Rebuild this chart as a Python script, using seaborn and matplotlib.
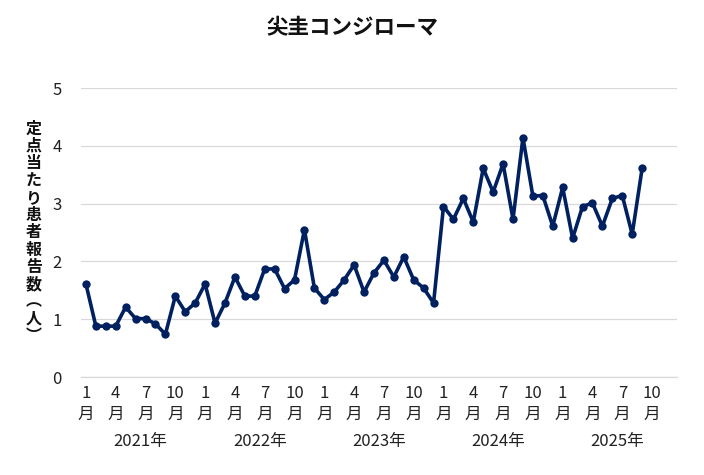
import matplotlib
matplotlib.use("Agg")
import matplotlib.pyplot as plt
import numpy as np
import pandas as pd
import seaborn as sns

TITLE = "尖圭コンジローマ"
YLABEL = "定点当たり患者報告数︵人︶"

years = ["2021年", "2022年", "2023年", "2024年", "2025年"]
month_ticks = [1, 4, 7, 10]

# monthly reports per sentinel site, Jan 2021 .. Sep 2025
v2021 = [1.61, 0.88, 0.88, 0.88, 1.21, 1.01, 1.01, 0.92, 0.74, 1.40, 1.13, 1.28]
v2022 = [1.61, 0.93, 1.28, 1.73, 1.40, 1.40, 1.87, 1.87, 1.53, 1.68, 2.55, 1.54]
v2023 = [1.34, 1.47, 1.68, 1.94, 1.47, 1.80, 2.02, 1.73, 2.08, 1.68, 1.54, 1.28]
v2024 = [2.95, 2.73, 3.09, 2.68, 3.61, 3.20, 3.69, 2.73, 4.14, 3.13, 3.14, 2.61]
v2025 = [3.28, 2.40, 2.95, 3.01, 2.61, 3.09, 3.14, 2.47, 3.61]

LINE = "#002060"
GRID = "#d9d9d9"

sns.set_theme(style="white")
plt.rcParams["font.family"] = ["Noto Sans CJK JP", "DejaVu Sans"]

values = v2021 + v2022 + v2023 + v2024 + v2025
df = pd.DataFrame({"pos": np.arange(len(values)), "value": values})
n_slots = 12 * len(years)

fig = plt.figure(figsize=(7.04, 4.75), dpi=100)
ax = fig.add_axes([0.115, 0.2063, 0.8465, 0.6084])

sns.lineplot(data=df, x="pos", y="value", ax=ax, color=LINE, lw=2.6,
             marker="o", markersize=6, markeredgewidth=0, zorder=3)

ax.set_xlim(-0.5, n_slots - 0.5)
ax.set_ylim(0, 5)
ax.set_yticks(range(6))
ax.yaxis.grid(True, color=GRID, lw=0.9)
ax.tick_params(axis="y", length=0, pad=14, labelsize=12, labelcolor="#222222")

for s in ["top", "right", "left"]:
    ax.spines[s].set_visible(False)
ax.spines["bottom"].set_color(GRID)
ax.spines["bottom"].set_linewidth(0.9)

# year separators as major ticks, month numbers as minor ticks
ax.set_xticks([12 * i - 0.5 for i in range(len(years) + 1)])
ax.set_xticklabels([])
ax.tick_params(axis="x", which="major", direction="inout", length=10,
               color=GRID, width=0.9)
minor_pos = [12 * i + (m - 1) for i in range(len(years)) for m in month_ticks]
ax.set_xticks(minor_pos, minor=True)
ax.set_xticklabels([f"{m}\n月" for _ in years for m in month_ticks], minor=True)
ax.tick_params(axis="x", which="minor", length=0, pad=6, labelsize=12,
               labelcolor="#222222")
for lab in ax.get_xticklabels(minor=True):
    lab.set_linespacing(1.25)

trans = ax.get_xaxis_transform()
for i, y in enumerate(years):
    ax.text(12 * i + 5.5, -0.222, y, transform=trans, ha="center", va="center",
            fontsize=12, color="#222222")

ax.set_xlabel("")
ax.set_ylabel("")
fig.text(0.5, 0.941, TITLE, ha="center", va="center", fontsize=15.5,
         fontweight="bold", color="#111111")
fig.text(0.048, 0.511, "\n".join(YLABEL), ha="center", va="center",
         fontsize=11.5, fontweight="bold", linespacing=1.1, color="#111111")

fig.savefig("out.png", dpi=100)
